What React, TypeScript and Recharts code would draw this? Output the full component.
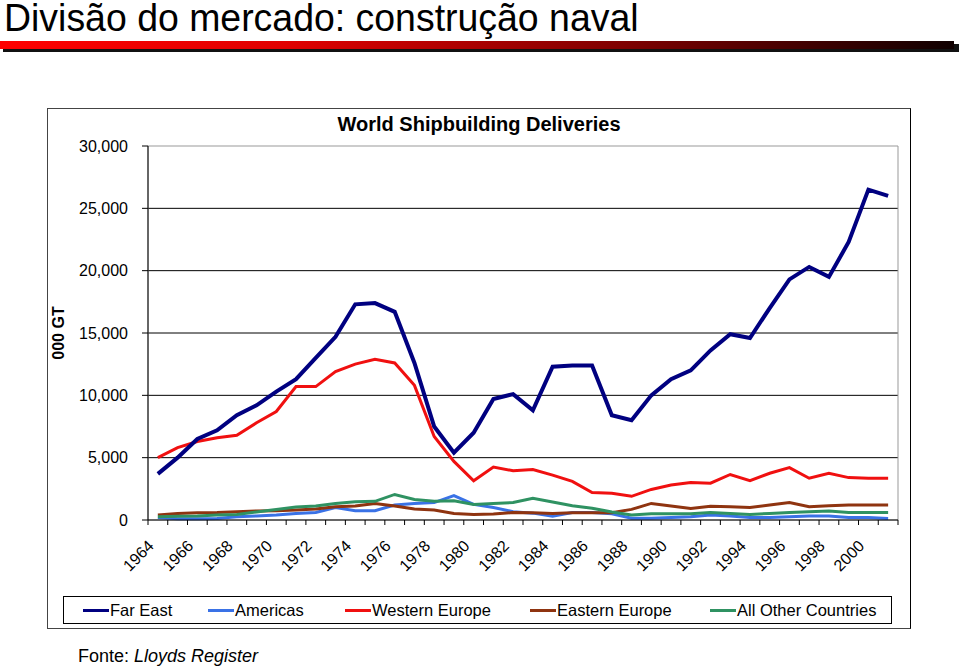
import React from 'react';
import { LineChart, Line, XAxis, YAxis, CartesianGrid, ReferenceArea } from 'recharts';

// World shipbuilding deliveries, '000 GT (Lloyds Register)
const years = [
  1964, 1965, 1966, 1967, 1968, 1969, 1970, 1971, 1972, 1973,
  1974, 1975, 1976, 1977, 1978, 1979, 1980, 1981, 1982, 1983,
  1984, 1985, 1986, 1987, 1988, 1989, 1990, 1991, 1992, 1993,
  1994, 1995, 1996, 1997, 1998, 1999, 2000, 2001,
];

const farEast = [
  3700, 5000, 6500, 7200, 8400, 9200, 10300, 11300, 13000, 14700,
  17300, 17400, 16700, 12600, 7500, 5400, 7000, 9700, 10100, 8800,
  12300, 12400, 12400, 8400, 8000, 10000, 11300, 12000, 13600, 14900,
  14600, 17000, 19300, 20300, 19500, 22300, 26500, 26000,
];

const americas = [
  200, 100, 100, 130, 270, 320, 400, 530, 600, 1000,
  750, 750, 1200, 1330, 1400, 1950, 1250, 1000, 670, 550,
  300, 600, 600, 500, 150, 150, 200, 270, 400, 320,
  200, 200, 270, 320, 320, 200, 200, 130,
];

const westernEurope = [
  5000, 5800, 6300, 6600, 6800, 7800, 8700, 10700, 10700, 11900,
  12500, 12900, 12600, 10800, 6700, 4700, 3150, 4250, 3950, 4050,
  3600, 3100, 2200, 2150, 1900, 2450, 2800, 3000, 2950, 3650,
  3150, 3750, 4200, 3350, 3750, 3400, 3350, 3350,
];

const easternEurope = [
  400, 530, 580, 600, 670, 720, 750, 800, 880, 1070,
  1120, 1330, 1120, 880, 800, 530, 450, 480, 600, 580,
  530, 580, 580, 580, 850, 1330, 1120, 930, 1100, 1070,
  1000, 1200, 1400, 1070, 1150, 1200, 1200, 1200,
];

const otherCountries = [
  270, 300, 330, 400, 450, 650, 850, 1050, 1120, 1330,
  1470, 1500, 2050, 1650, 1500, 1550, 1250, 1330, 1400, 1750,
  1450, 1150, 950, 650, 400, 500, 500, 500, 600, 530,
  450, 530, 600, 670, 720, 600, 600, 600,
];

const xTickLabels = [
  '1964', '1966', '1968', '1970', '1972', '1974', '1976', '1978', '1980', '1982',
  '1984', '1986', '1988', '1990', '1992', '1994', '1996', '1998', '2000',
];
const yTicks = [0, 5000, 10000, 15000, 20000, 25000, 30000];

const series = [
  { key: 'americas', name: 'Americas', color: '#3a72e6', width: 3 },
  { key: 'easternEurope', name: 'Eastern Europe', color: '#8f3410', width: 3 },
  { key: 'otherCountries', name: 'All Other Countries', color: '#2f9262', width: 3 },
  { key: 'westernEurope', name: 'Western Europe', color: '#f01010', width: 3 },
  { key: 'farEast', name: 'Far East', color: '#000080', width: 4 },
];

const legendOrder = [
  { name: 'Far East', color: '#000080', left: 83 },
  { name: 'Americas', color: '#3a72e6', left: 208 },
  { name: 'Western Europe', color: '#f01010', left: 345 },
  { name: 'Eastern Europe', color: '#8f3410', left: 530 },
  { name: 'All Other Countries', color: '#2f9262', left: 710 },
];

const data = years.map((year, i) => ({
  year,
  farEast: farEast[i],
  americas: americas[i],
  westernEurope: westernEurope[i],
  easternEurope: easternEurope[i],
  otherCountries: otherCountries[i],
}));

// tick marks sit between years, labels on every other year
const xTicks: number[] = [];
years.forEach((y) => {
  xTicks.push(y - 0.5);
  xTicks.push(y);
});
xTicks.push(years[years.length - 1] + 0.5);

const font = '"Liberation Sans", Arial, sans-serif';

function XTick(props: any) {
  const { x, y, payload } = props;
  const v = payload.value;
  if (!Number.isInteger(v)) {
    return <line x1={x} x2={x} y1={y} y2={y + 5} stroke="#000" />;
  }
  if (!xTickLabels.includes(String(v))) return null;
  const tx = x - 3;
  const ty = y + 27;
  return (
    <text
      x={tx}
      y={ty}
      transform={`rotate(-45 ${tx} ${ty})`}
      textAnchor="end"
      fontSize={16}
      fontFamily={font}
      fill="#000"
    >
      {v}
    </text>
  );
}

export default function App() {
  return (
    <div style={{ position: 'absolute', left: 0, top: 0, width: 960, height: 667, background: '#fff', fontFamily: font, overflow: 'hidden' }}>
      <div
        style={{
          position: 'absolute',
          left: 4,
          top: 0,
          fontSize: 38,
          lineHeight: '36px',
          color: '#000',
          whiteSpace: 'nowrap',
          transform: 'scaleX(0.985)',
          transformOrigin: '0 0',
        }}
      >
        Divisão do mercado: construção naval
      </div>
      <div style={{ position: 'absolute', left: 3, top: 44, width: 956, height: 8, background: '#111' }} />
      <div
        style={{
          position: 'absolute',
          left: 0,
          top: 41,
          width: 954,
          height: 8,
          background: 'linear-gradient(to right, #ff0000 0%, #e00000 30%, #800000 65%, #100000 100%)',
        }}
      />

      <div style={{ position: 'absolute', left: 47, top: 108, width: 862, height: 519, border: '1px solid #444', borderRightColor: '#000' }} />
      <div style={{ position: 'absolute', left: 47, top: 113, width: 864, textAlign: 'center', fontWeight: 'bold', fontSize: 20, color: '#000' }}>
        World Shipbuilding Deliveries
      </div>
      <div
        style={{
          position: 'absolute',
          left: 59,
          top: 333,
          transform: 'translate(-50%, -50%) rotate(-90deg)',
          fontWeight: 'bold',
          fontSize: 16,
          whiteSpace: 'nowrap',
          color: '#000',
        }}
      >
        000 GT
      </div>

      <div style={{ position: 'absolute', left: 47, top: 108 }}>
        <LineChart width={863} height={520} data={data} margin={{ top: 38, right: 12, left: 0, bottom: 0 }}>
          <ReferenceArea y1={0} y2={30000} fill="none" stroke="#999" strokeWidth={1} />
          <CartesianGrid vertical={false} horizontalValues={[5000, 10000, 15000, 20000, 25000]} stroke="#000" />
          <XAxis
            dataKey="year"
            type="number"
            domain={[years[0] - 0.5, years[years.length - 1] + 0.5]}
            ticks={xTicks}
            interval={0}
            tick={<XTick />}
            tickLine={false}
            tickSize={0}
            tickMargin={0}
            axisLine={{ stroke: '#000' }}
            height={108}
          />
          <YAxis
            domain={[0, 30000]}
            ticks={yTicks}
            interval={0}
            width={101}
            tickSize={6}
            tickMargin={14}
            tickLine={{ stroke: '#000' }}
            axisLine={{ stroke: '#000' }}
            tick={{ fontSize: 16, fill: '#000', fontFamily: font }}
            tickFormatter={(v: number) => v.toLocaleString('en-US')}
          />
          {series.map((s) => (
            <Line
              key={s.key}
              type="linear"
              dataKey={s.key}
              name={s.name}
              stroke={s.color}
              strokeWidth={s.width}
              dot={false}
              isAnimationActive={false}
            />
          ))}
        </LineChart>
      </div>

      <div style={{ position: 'absolute', left: 63, top: 596, width: 827, height: 26, border: '1px solid #000' }} />
      {legendOrder.map((l) => (
        <div key={l.name} style={{ position: 'absolute', left: l.left, top: 600, height: 20, display: 'flex', alignItems: 'center', fontSize: 16.5, color: '#000', whiteSpace: 'nowrap' }}>
          <span style={{ display: 'inline-block', width: 26, height: 3, background: l.color, marginRight: 1 }} />
          {l.name}
        </div>
      ))}

      <div style={{ position: 'absolute', left: 78, top: 646, fontSize: 18, color: '#000', whiteSpace: 'nowrap' }}>
        Fonte: <i>Lloyds Register</i>
      </div>
    </div>
  );
}
